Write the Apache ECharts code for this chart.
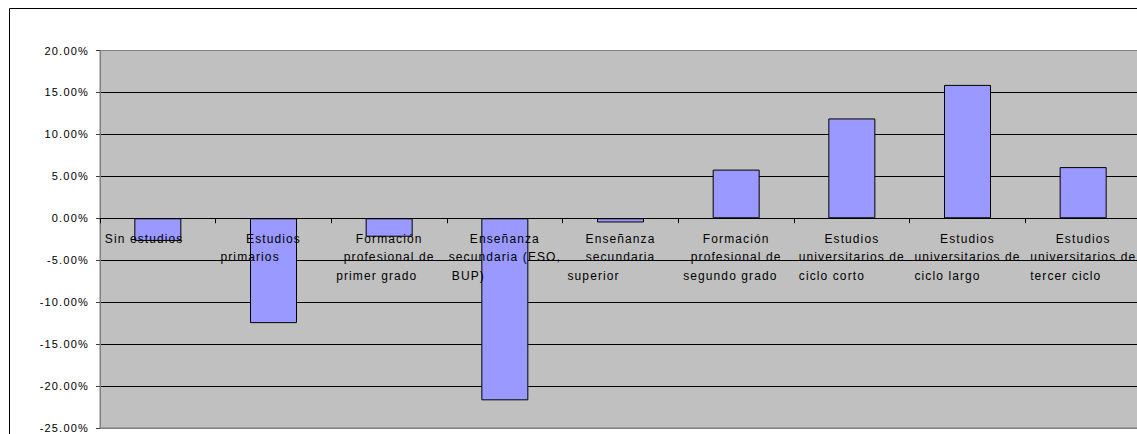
<!DOCTYPE html>
<html>
<head>
<meta charset="utf-8">
<script src="https://cdn.jsdelivr.net/npm/echarts@6/dist/echarts.min.js"></script>
<style>
  html, body { margin: 0; padding: 0; background: #fff; }
  #chart { width: 1137px; height: 434px; }
  /* wide, evenly spaced lettering for the axis texts */
  #chart svg text { letter-spacing: 1.1px; }
  #chart svg text[text-anchor="end"] { letter-spacing: 1.2px; }
</style>
</head>
<body>
<div id="chart"></div>
<script>
// Education levels (line breaks as the labels wrap under each bar)
const categories = [
  "Sin estudios",
  "Estudios\nprimarios",
  "Formación\nprofesional de\nprimer grado",
  "Enseñanza\nsecundaria (ESO,\nBUP)",
  "Enseñanza\nsecundaria\nsuperior",
  "Formación\nprofesional de\nsegundo grado",
  "Estudios\nuniversitarios de\nciclo corto",
  "Estudios\nuniversitarios de\nciclo largo",
  "Estudios\nuniversitarios de\ntercer ciclo"
];

// Percentage change per education level
const values = [-2.7, -12.5, -2.2, -21.7, -0.5, 5.8, 11.9, 15.9, 6.1];

// Value axis range and step (percent)
const axisMin = -25;
const axisMax = 20;
const axisStep = 5;

const FONT = '"Liberation Sans", Arial, sans-serif';

// Plot box
const plotLeft = 100;
const plotTop = 50.5;
const plotWidth = 1041;
const plotHeight = 377.5;

// Category axis sits on the zero line: shift it up from the bottom edge
const zeroOffset = -plotHeight * (0 - axisMin) / (axisMax - axisMin);

// Grid lines: the outer ones coincide with the plot border and stay grey
const lineCount = (axisMax - axisMin) / axisStep + 1;
const splitColors = [];
for (let i = 0; i < lineCount; i++) {
  splitColors.push(i === 0 || i === lineCount - 1 ? '#808080' : '#000000');
}

const chart = echarts.init(document.getElementById('chart'), null, { renderer: 'svg' });

chart.setOption({
  animation: false,
  backgroundColor: '#ffffff',
  graphic: [{
    type: 'rect',
    z: -10,
    silent: true,
    shape: { x: 9.5, y: 8.5, width: 1200, height: 500 },
    style: { fill: 'none', stroke: '#000000', lineWidth: 1 }
  }],
  grid: {
    left: plotLeft,
    top: plotTop,
    width: plotWidth,
    height: plotHeight,
    outerBoundsMode: 'none',
    containLabel: false,
    show: true,
    backgroundColor: '#C0C0C0',
    borderColor: '#808080',
    borderWidth: 1
  },
  xAxis: {
    type: 'category',
    data: categories,
    position: 'bottom',
    offset: zeroOffset,
    z: 10,
    boundaryGap: true,
    axisLine: { onZero: false, lineStyle: { color: '#000000', width: 1 } },
    axisTick: { show: true, alignWithLabel: false, length: 5, lineStyle: { color: '#000000' } },
    axisLabel: {
      interval: 0,
      hideOverlap: false,
      margin: 11,
      width: 106,
      color: '#000000',
      fontFamily: FONT,
      fontSize: 12,
      lineHeight: 18.7,
      formatter: function (v) {
        const lines = v.split('\n');
        return lines.map(function (s, i) {
          return (i === lines.length - 1 ? '{l|' : '{c|') + s + '}';
        }).join('\n');
      },
      rich: {
        c: { align: 'center', fontFamily: FONT, fontSize: 12, lineHeight: 18.7, color: '#000000' },
        l: { align: 'left', fontFamily: FONT, fontSize: 12, lineHeight: 18.7, color: '#000000' }
      }
    },
    splitLine: { show: false }
  },
  yAxis: {
    type: 'value',
    min: axisMin,
    max: axisMax,
    interval: axisStep,
    axisLine: { show: true, lineStyle: { color: '#808080', width: 1 } },
    axisTick: { show: true, inside: false, length: 4, lineStyle: { color: '#404040' } },
    axisLabel: {
      margin: 11,
      color: '#000000',
      fontFamily: FONT,
      fontSize: 11,
      formatter: function (v) { return v.toFixed(2) + '%'; }
    },
    splitLine: { show: true, lineStyle: { color: splitColors, width: 1 } }
  },
  series: [{
    type: 'bar',
    data: values,
    barWidth: 47,
    itemStyle: { color: '#9999FF', borderColor: '#000000', borderWidth: 1 }
  }]
});
</script>
</body>
</html>
